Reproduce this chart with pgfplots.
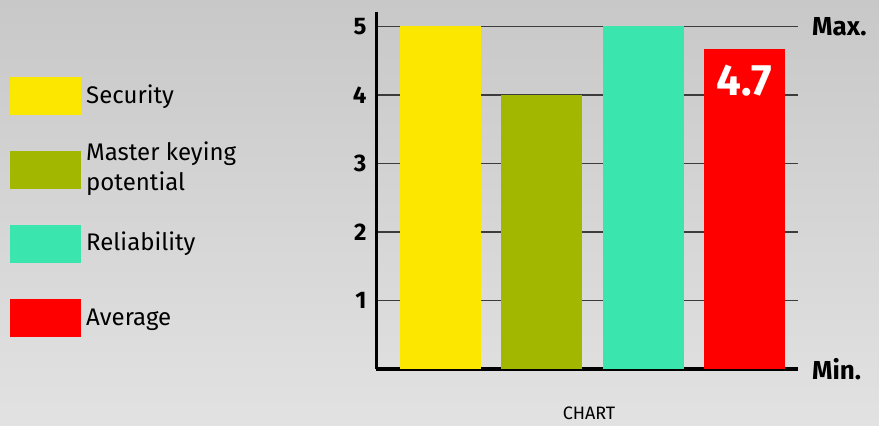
\documentclass[border=0pt]{standalone}
\usepackage{pgfplots}
\pgfplotsset{compat=1.18}
\usepackage{fontspec}
\setmainfont{Fira Sans}
\definecolor{bgtop}{RGB}{200,200,200}
\definecolor{bgbot}{RGB}{226,226,226}
\definecolor{cyel}{RGB}{251,231,0}
\definecolor{colive}{RGB}{162,183,0}
\definecolor{cteal}{RGB}{59,230,174}
\definecolor{cred}{RGB}{255,0,0}
\definecolor{gridc}{RGB}{60,60,60}
\newcommand{\fs}[1]{\fontsize{#1}{#1}\selectfont}
\begin{document}
\begin{tikzpicture}[x=1pt,y=1pt]
  % background
  \fill[top color=bgtop, bottom color=bgbot, draw=none] (0,0) rectangle (879,426);
  % legend
  \foreach \yy/\cc in {96/cyel, 170/colive, 244/cteal, 318/cred}{
    \fill[\cc] (10,426-\yy-19) rectangle (81,426-\yy+19);
  }
  \node[anchor=west, inner sep=0pt, font=\fs{24}] at (86,426-97) {Security};
  \node[anchor=west, inner sep=0pt, font=\fontsize{24}{30}\selectfont, align=left] at (86,426-169)
    {Master keying\\potential};
  \node[anchor=west, inner sep=0pt, font=\fs{24}] at (86,426-244) {Reliability};
  \node[anchor=west, inner sep=0pt, font=\fs{24}] at (86,426-320) {Average};
  \node[font=\fs{18}] at (589,13) {CHART};
  \begin{axis}[
      at={(376pt,57pt)}, anchor=south west,
      scale only axis, width=422pt, height=357pt,
      xmin=-0.637, xmax=3.53, ymin=0, ymax=5.21,
      axis x line=bottom, axis y line=left,
      x axis line style={-, line width=4pt},
      y axis line style={-, line width=3pt},
      xtick=\empty, ytick={1,2,3,4,5},
      major tick length=0pt,
      ymajorgrids, grid style={gridc, line width=1.2pt},
      /pgf/number format/assume math mode=true,
      yticklabel style={font=\bfseries\fs{24}, xshift=-6pt},
      ybar, bar width=81pt, bar shift=0pt,
      clip=false]
    \addplot[fill=cyel, draw=none] coordinates {(0,5)};
    \addplot[fill=colive, draw=none] coordinates {(1,4)};
    \addplot[fill=cteal, draw=none] coordinates {(2,5)};
    \addplot[fill=cred, draw=none] coordinates {(3,4.67)};
    \node[text=white, inner sep=0pt, font=\bfseries\fs{44}] at (axis cs:3,4.67) [yshift=-32pt] {4.7};
    \node[anchor=west, font=\bfseries\fs{26}, inner sep=0pt] at (axis cs:3.53,5) [xshift=14pt] {Max.};
    \node[anchor=west, font=\bfseries\fs{26}, inner sep=0pt] at (axis cs:3.53,0) [xshift=14pt] {Min.};
  \end{axis}
\end{tikzpicture}
\end{document}
